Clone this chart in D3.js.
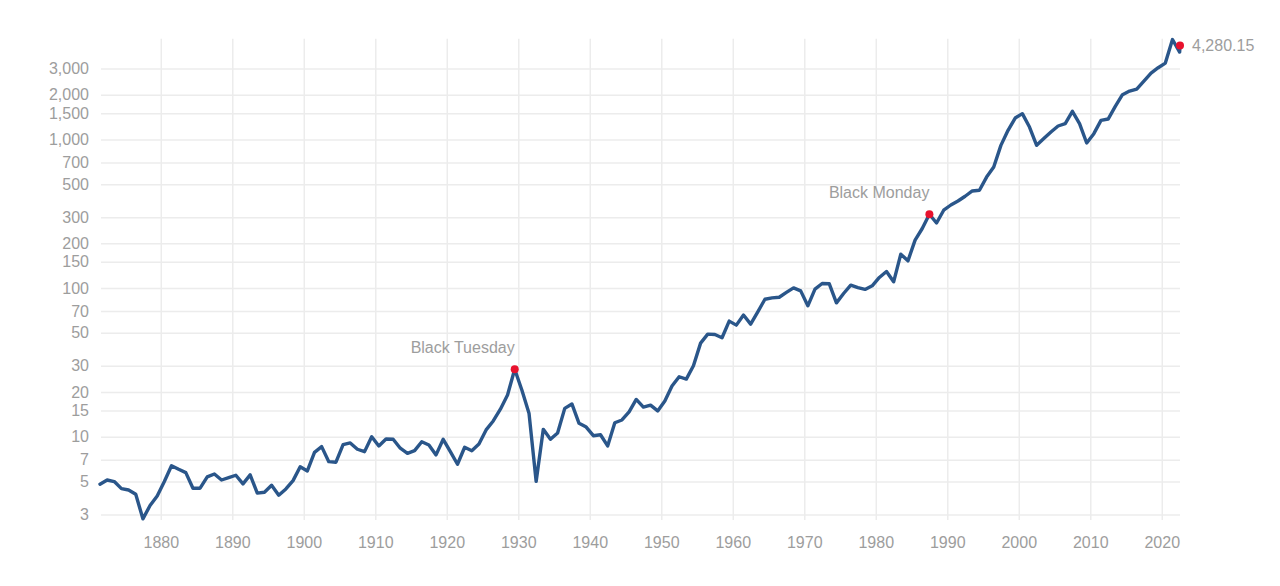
<!DOCTYPE html>
<html>
<head>
<meta charset="utf-8">
<style>
  body { margin: 0; background: #fff; }
  .axis path { display: none; }
  .axis line { stroke: #ececec; stroke-width: 1.5px; }
  .axis text, .note {
    font-family: "Liberation Sans", Arial, sans-serif;
    font-size: 16px;
    fill: #9d9d9d;
  }
</style>
</head>
<body>
<div id="chart"></div>
<script src="https://d3js.org/d3.v7.min.js"></script>
<script>

// S&P 500, one reading per year (plotted mid-year), log scale
var firstYear = 1871, lastYear = 2022;
var years = d3.range(firstYear, lastYear + 1);
var prices = [
  4.79, 5.11, 4.99, 4.47, 4.38, 4.10, 2.80, 3.44, 3.99,                   // 1871-1879
  4.99, 6.38, 6.03, 5.73, 4.50, 4.50, 5.36, 5.61, 5.11, 5.30,             // 1880s
  5.50, 4.81, 5.53, 4.17, 4.23, 4.71, 4.04, 4.45, 5.06, 6.28,             // 1890s
  5.88, 7.85, 8.57, 6.79, 6.73, 8.83, 9.07, 8.23, 7.93, 10.0,             // 1900s
  8.66, 9.65, 9.60, 8.36, 7.73, 8.05, 9.25, 8.79, 7.54, 9.60,             // 1910s
  7.93, 6.52, 8.49, 8.05, 8.93, 11.1, 12.75, 15.3, 19.05, 28.4,           // 1920s
  20.6, 14.4, 5.0, 11.2, 9.6, 10.6, 15.5, 16.6, 12.3, 11.6,               // 1930s
  10.15, 10.3, 8.66, 12.4, 12.95, 14.7, 17.8, 15.8, 16.3, 14.9,           // 1940s
  17.4, 21.9, 25.3, 24.4, 30.0, 42.6, 49.0, 48.7, 46.3, 59.9,             // 1950s
  56.3, 65.8, 57.2, 69.2, 84.1, 85.9, 86.7, 93.4, 100.3, 95.7,            // 1960s
  75.9, 98.3, 107.3, 106.8, 79.5, 91.9, 104.6, 100.6, 97.9, 103.5,        // 1970s
  117.8, 129.3, 110.1, 169, 152.4, 210, 251.5, 313.7, 274, 333.8,         // 1980s
  362, 385, 414.6, 450, 455, 558, 652, 912, 1151, 1392,                   // 1990s
  1490, 1211, 912, 1013, 1122, 1231, 1277, 1545, 1277, 946,               // 2000s
  1093, 1343, 1371, 1669, 1999, 2114, 2182, 2469, 2793, 3037,             // 2010s
  3263, 4700, 3870                                                        // 2020-2022
];
var latestDate = 2022.55, latestPrice = 4280.15;

var events = [
  {name: "Black Tuesday", year: 1929},
  {name: "Black Monday", year: 1987}
];

var yTicks = [3, 5, 7, 10, 15, 20, 30, 50, 70, 100, 150, 200, 300, 500, 700, 1000, 1500, 2000, 3000];
var xTicks = d3.range(1880, 2021, 10);

var width = 1280, height = 586;
var margin = {top: 38.7, right: 100, bottom: 66, left: 100};

var data = years.map(function(y, i) { return {date: y + 0.5, value: prices[i]}; });
data.push({date: latestDate, value: latestPrice});

var x = d3.scaleLinear()
  .domain([firstYear + 0.5, latestDate])
  .range([margin.left, width - margin.right]);

var y = d3.scaleLog()
  .domain([2.75, 4760])
  .range([height - margin.bottom, margin.top]);

var svg = d3.select("#chart").append("svg")
  .attr("width", width)
  .attr("height", height);

// grid + labels
svg.append("g")
  .attr("class", "y axis")
  .attr("transform", "translate(" + (margin.left + 1) + ",0)")
  .call(d3.axisLeft(y)
    .tickValues(yTicks)
    .tickFormat(d3.format(","))
    .tickSize(-(width - margin.right - margin.left - 1))
    .tickPadding(12));

svg.append("g")
  .attr("class", "x axis")
  .attr("transform", "translate(0," + (height - margin.bottom) + ")")
  .call(d3.axisBottom(x)
    .tickValues(xTicks)
    .tickFormat(d3.format("d"))
    .tickSize(-(height - margin.bottom - margin.top))
    .tickPadding(17));

var line = d3.line()
  .x(function(d) { return x(d.date); })
  .y(function(d) { return y(d.value); });

svg.append("path")
  .datum(data)
  .attr("fill", "none")
  .attr("stroke", "#2a568a")
  .attr("stroke-width", 3.4)
  .attr("stroke-linejoin", "round")
  .attr("stroke-linecap", "round")
  .attr("d", line);

// crash markers
var marks = svg.selectAll(".event")
  .data(events)
  .enter().append("g")
  .attr("class", "event")
  .attr("transform", function(d) {
    return "translate(" + x(d.year + 0.5) + "," + y(prices[d.year - firstYear]) + ")";
  });

marks.append("circle")
  .attr("r", 4)
  .attr("fill", "#e8112d");

marks.append("text")
  .attr("class", "note")
  .attr("y", -16)
  .style("text-anchor", "end")
  .text(function(d) { return d.name; });

// latest value
var last = svg.append("g")
  .attr("transform", "translate(" + x(latestDate) + "," + y(latestPrice) + ")");

last.append("circle")
  .attr("r", 4)
  .attr("fill", "#e8112d");

last.append("text")
  .attr("class", "note")
  .attr("x", 12)
  .attr("dy", "0.35em")
  .text(d3.format(",.2f")(latestPrice));

</script>
</body>
</html>
